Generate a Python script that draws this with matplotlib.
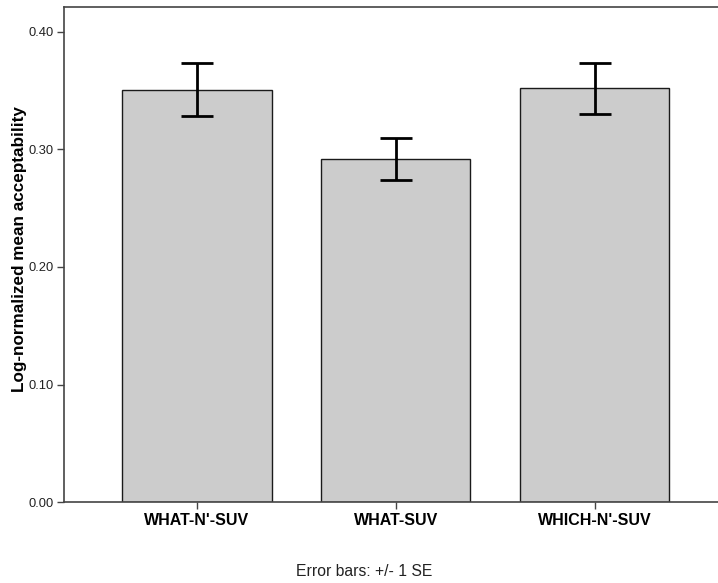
import matplotlib
matplotlib.use("Agg")
import matplotlib.pyplot as plt

# condition labels and means
conditions = ["WHAT-N'-SUV", "WHAT-SUV", "WHICH-N'-SUV"]
means = [0.351, 0.292, 0.352]
# +/- 1 SE, upper and lower distances
se_upper = [0.0225, 0.018, 0.0215]
se_lower = [0.0225, 0.018, 0.0215]
yticks = [0.00, 0.10, 0.20, 0.30, 0.40]

plt.rcParams['font.family'] = ['Liberation Sans', 'DejaVu Sans']

fig = plt.figure(figsize=(7.18, 5.83), dpi=100)
ax = fig.add_axes([0.0891, 0.1389, 0.9242, 0.8496])

x = list(range(len(conditions)))
ax.bar(x, means, width=0.75, color='#cccccc', edgecolor='#1a1a1a', linewidth=1.0, zorder=2)
ax.errorbar(x, means, yerr=[se_lower, se_upper], fmt='none', ecolor='black',
            elinewidth=2.0, capsize=11.5, capthick=2.0, zorder=3)

ax.set_xlim(-0.669, 2.669)
ax.set_ylim(0, 0.4215)
ax.set_yticks(yticks)
ax.set_yticklabels(['%.2f' % v for v in yticks], fontsize=9.3, color='#222222')
ax.set_xticks(x)
ax.set_xticklabels(conditions, fontsize=11.5, fontweight='bold')
ax.tick_params(axis='both', direction='out', length=5, width=1, color='#444444')
ax.tick_params(axis='x', pad=3)
ax.tick_params(axis='y', pad=2.5)

for side in ['left', 'top', 'bottom']:
    ax.spines[side].set_color('#444444')
    ax.spines[side].set_linewidth(1.2)
ax.spines['right'].set_visible(False)

ax.set_ylabel('Log-normalized mean acceptability', fontsize=12.3, fontweight='bold')
ax.yaxis.set_label_coords(-0.056, 0.51)

fig.text(0.507, 0.019, 'Error bars: +/- 1 SE', ha='center', va='center', fontsize=11.3, color='#222222')

fig.savefig('out.png', dpi=100)
